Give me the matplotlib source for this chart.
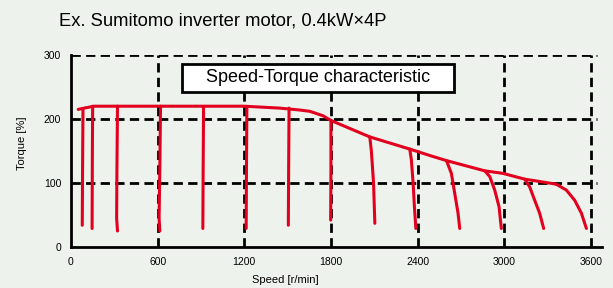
import matplotlib
matplotlib.use("Agg")
import matplotlib.pyplot as plt
from matplotlib.patches import Rectangle

plt.rcParams['font.family'] = ['Liberation Sans', 'DejaVu Sans']
plt.rcParams['lines.scale_dashes'] = False

# data (speed in r/min, torque in %)
env_speed = [50, 90, 160, 400, 800, 1200, 1446, 1585, 1654, 1746, 1797, 2069, 2346,
             2484, 2600, 2865, 2992, 3142, 3338, 3361]
env_torque = [215, 217, 220, 220, 220, 220, 217, 214, 212, 205, 198, 172, 153,
              143, 135, 119, 115, 106, 99, 98]

drop_speed = [
    [83, 80, 78],
    [150, 148, 146],
    [322, 318, 316, 322],
    [620, 615, 610, 615],
    [918, 915, 913],
    [1218, 1215, 1213],
    [1510, 1507, 1505],
    [1800, 1800, 1798],
    [2069, 2080, 2095, 2104],
    [2346, 2357, 2369, 2378, 2388],
    [2600, 2634, 2657, 2680, 2692],
    [2865, 2900, 2934, 2964, 2980],
    [3142, 3176, 3211, 3245, 3273],
    [3361, 3430, 3488, 3534, 3569],
]
drop_torque = [
    [216, 120, 34],
    [220, 150, 29],
    [220, 120, 45, 25],
    [220, 120, 45, 25],
    [219, 120, 29],
    [219, 120, 29],
    [217, 120, 34],
    [198, 120, 42],
    [172, 150, 100, 37],
    [153, 136, 100, 63, 29],
    [135, 115, 84, 53, 29],
    [119, 110, 89, 63, 29],
    [106, 94, 73, 53, 29],
    [98, 89, 73, 53, 29],
]

x_ticks = [0, 600, 1200, 1800, 2400, 3000, 3600]
y_ticks = [0, 100, 200, 300]

red = '#e2001e'
bg = '#edf3ec'

fig = plt.figure(figsize=(6.13, 2.88), dpi=100, facecolor=bg)
ax = fig.add_axes([71/613, 1 - 247/288, 531/613, 192/288])
ax.set_facecolor(bg)

# dashed grid
for xv in x_ticks[1:]:
    ax.plot([xv, xv], [0, 300], color='black', lw=2, dashes=(6.7, 3.8), zorder=2)
for yv in y_ticks[1:]:
    ax.plot([0, 3640], [yv, yv], color='black', lw=2, dashes=(6.7, 3.8), zorder=2)

# characteristic curves
ax.plot(env_speed, env_torque, color=red, lw=2.2, zorder=3,
        solid_capstyle='round', solid_joinstyle='round')
for sp, tq in zip(drop_speed, drop_torque):
    ax.plot(sp, tq, color=red, lw=2.2, zorder=3, solid_capstyle='round', solid_joinstyle='round')

ax.set_xlim(0, 3677)
ax.set_ylim(0, 300)
ax.set_xticks(x_ticks)
ax.set_yticks(y_ticks)
ax.tick_params(length=0, labelsize=7.5, pad=7)
for s in ['top', 'right']:
    ax.spines[s].set_visible(False)
for s in ['left', 'bottom']:
    ax.spines[s].set_linewidth(2)
    ax.spines[s].set_zorder(4)

fig.text(22/613, 1 - 143/288, 'Torque [%]', rotation=90, ha='center', va='center', fontsize=8)
fig.text(285/613, 1 - 280/288, 'Speed [r/min]', ha='center', va='center', fontsize=8)
fig.text(59/613, 1 - 21/288, 'Ex. Sumitomo inverter motor, 0.4kW\u00d74P', ha='left', va='center', fontsize=13.2)

# title box inside the plot
fig.patches.append(Rectangle((182/613, 1 - 92/288), 272/613, 28/288, transform=fig.transFigure,
                             facecolor='white', edgecolor='black', lw=2, zorder=5))
fig.text(318/613, 1 - 78/288, 'Speed-Torque characteristic', ha='center', va='center', fontsize=13, zorder=6)

fig.savefig('out.png', dpi=100, facecolor=bg)
